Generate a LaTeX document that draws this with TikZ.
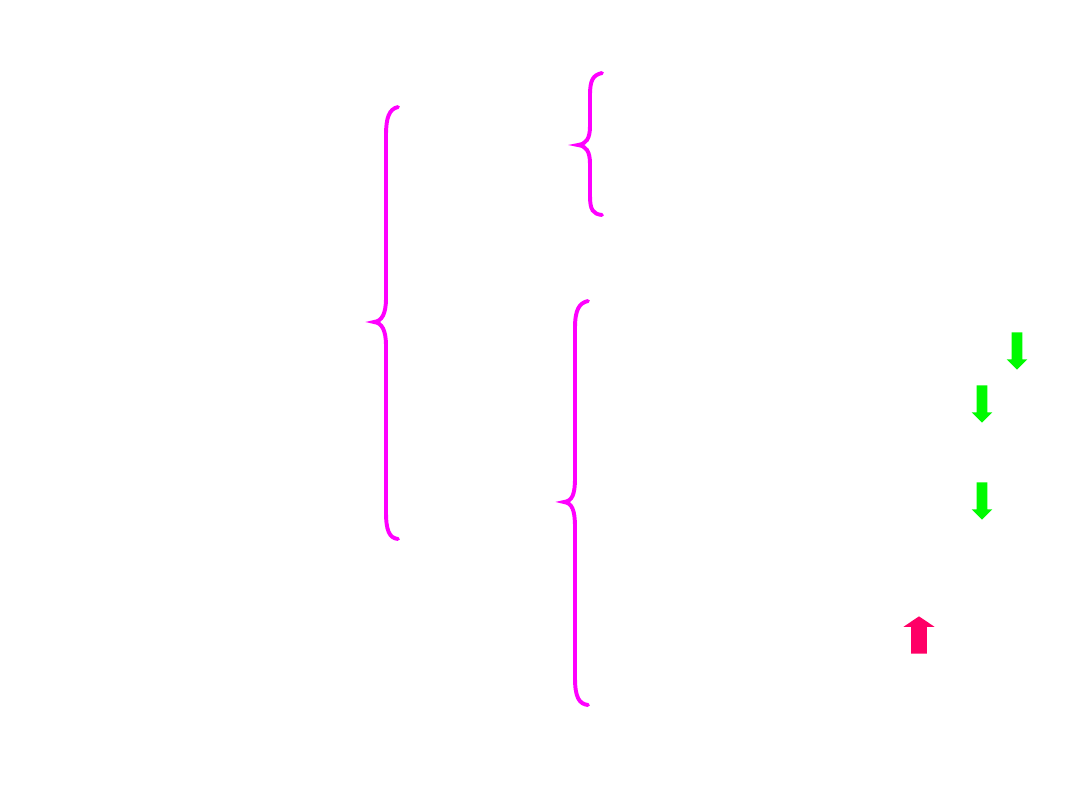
\documentclass[tikz,border=0pt]{standalone}
\usepackage{tikz}
\usetikzlibrary{shapes.arrows}
\definecolor{bracepink}{RGB}{255,0,255}
\definecolor{downgreen}{RGB}{0,250,0}
\definecolor{upred}{RGB}{255,0,102}
\begin{document}
\begin{tikzpicture}[x=0.025cm, y=-0.025cm,
  brace/.style={draw=bracepink, line width=2.8pt, line cap=round},
  blockarrow/.style={single arrow, draw=none, inner sep=0.125cm, minimum height=0.93cm,
    single arrow head extend=0.125cm, anchor=tip}]
 \useasboundingbox (0,0) rectangle (1080,810);
 % braces
 \draw[brace] (398,107) .. controls (389,109) and (386,118) .. (386,135) -- (386,298)
   .. controls (386,314) and (382,321) .. (374,322) .. controls (382,323) and (386,330) .. (386,346)
   -- (386,512) .. controls (386,530) and (389,538) .. (398,539);
 \draw[brace] (602,73) .. controls (593,75) and (590,80) .. (590,95) -- (590,126)
   .. controls (590,139) and (586,144) .. (578,145) .. controls (586,146) and (590,151) .. (590,164)
   -- (590,196) .. controls (590,210) and (593,214) .. (602,215);
 \draw[brace] (588,301) .. controls (579,303) and (575,310) .. (575,328) -- (575,478)
   .. controls (575,495) and (572,501) .. (564,502) .. controls (572,503) and (575,510) .. (575,527)
   -- (575,678) .. controls (575,697) and (579,704) .. (588,705);
 % arrows
 \node[blockarrow, fill=downgreen, shape border rotate=270] (down1) at (1017,370) {};
 \node[blockarrow, fill=downgreen, shape border rotate=270] (down2) at (982,423) {};
 \node[blockarrow, fill=downgreen, shape border rotate=270] (down3) at (982,520) {};
 \node[blockarrow, fill=upred, shape border rotate=90, inner sep=0.19cm,
   single arrow head extend=0.19cm, single arrow tip angle=112] (up1) at (919,616) {};
\end{tikzpicture}
\end{document}
